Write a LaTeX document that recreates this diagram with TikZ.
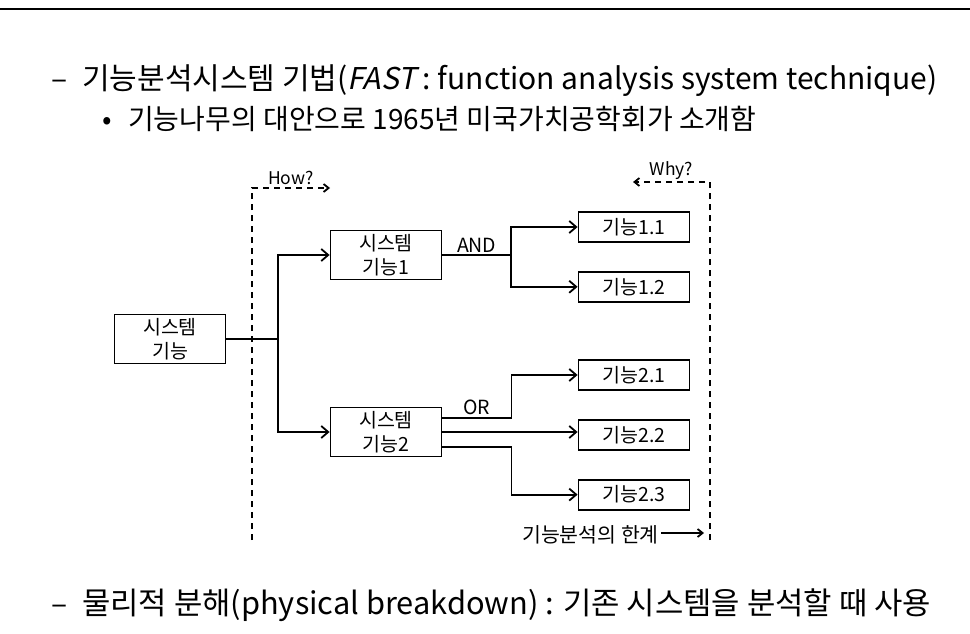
\documentclass[tikz,border=0pt]{standalone}
\usepackage{fontspec}
\setmainfont{Noto Sans CJK KR}[AutoFakeSlant=0.2]
\usepackage{tikz}
\usetikzlibrary{arrows.meta,positioning}
\newcommand\headfont{\fontsize{30}{34}\selectfont}
\newcommand\subfont{\fontsize{28}{32}\selectfont}
\newcommand\boxfont{\fontsize{19.5}{24}\selectfont}

\begin{document}
\begin{tikzpicture}[
  x=1pt, y=-1pt,
  node distance=28pt and 8pt,
  txt/.style={anchor=base west, inner sep=0pt, font=\headfont},
  sysbox/.style={draw, line width=1.8pt, minimum width=111pt, minimum height=49pt, align=center, font=\boxfont, inner sep=2pt},
  leaf/.style={draw, line width=1.8pt, minimum width=111pt, minimum height=30pt, font=\boxfont, inner sep=2pt},
  conn/.style={line width=1.8pt},
  arr/.style={conn, -{Straight Barb[length=7pt,width=12pt]}},
  hint/.style={line width=1.8pt, dash pattern=on 6pt off 5pt, -{Straight Barb[length=5pt,width=8pt]}},
  lbl/.style={font=\boxfont, inner sep=2pt}
]
\useasboundingbox (0,0) rectangle (970,634);
\draw[line width=2pt] (0,9) -- (970,9);

% slide text
\node[txt] (dash1) at (51,89) {–};
\node[txt] (title) at (82,89) {기능분석시스템 기법(\textit{FAST} : function analysis system technique)};
\node[txt, font=\subfont] (dot) at (102,129) {•};
\node[txt, font=\subfont] (sub) at (128,129) {기능나무의 대안으로 1965년 미국가치공학회가 소개함};
\node[txt] (dash2) at (51,614) {–};
\node[txt, font=\fontsize{30.8}{34}\selectfont] (bottom) at (82,614) {물리적 분해(physical breakdown) : 기존 시스템을 분석할 때 사용};

% function tree
\node[sysbox] (sys) at (170,339) {시스템\\기능};
\node[sysbox] (s1) at (386,255) {시스템\\기능1};
\node[sysbox] (s2) at (386,432) {시스템\\기능2};
\node[leaf] (f11) at (634,227) {기능1.1};
\node[leaf, below=of f11] (f12) {기능1.2};
\node[leaf] (f21) at (634,375) {기능2.1};
\node[leaf, below=of f21] (f22) {기능2.2};
\node[leaf, below=of f22] (f23) {기능2.3};

\coordinate (j0) at (278,339);
\coordinate (j1) at (511,255);
\draw[conn] (sys.east) -- (j0);
\draw[arr] (j0) |- (s1.west);
\draw[arr] (j0) |- (s2.west);
\draw[conn] (s1.east) -- node[lbl, above]{AND} (j1);
\draw[arr] (j1) |- (f11.west);
\draw[arr] (j1) |- (f12.west);
\draw[arr] ([yshift=14pt]s2.east) -- node[lbl, above]{OR} ++(69,0) |- (f21.west);
\draw[arr] (s2.east) -- (s2.east -| f22.west);
\draw[arr] ([yshift=-15pt]s2.east) -- ++(69,0) |- (f23.west);

% how / why
\coordinate (howbot) at (252,540);
\coordinate (howend) at (330,188);
\coordinate (whybot) at (710,540);
\coordinate (whyend) at (633,182);
\draw[hint] (howbot) |- node[lbl, pos=0.75, above, font=\fontsize{17.5}{20}\selectfont]{How?} (howend);
\draw[hint] (whybot) |- node[lbl, pos=0.75, above, font=\fontsize{17.5}{20}\selectfont]{Why?} (whyend);

\node[lbl, anchor=east, font=\fontsize{20.5}{24}\selectfont] (limit) at (661,535) {기능분석의 한계};
\coordinate (limitend) at (704,533);
\draw[conn, -{Straight Barb[length=5pt,width=8pt]}] (limit.east |- limitend) -- (limitend);
\end{tikzpicture}
\end{document}
